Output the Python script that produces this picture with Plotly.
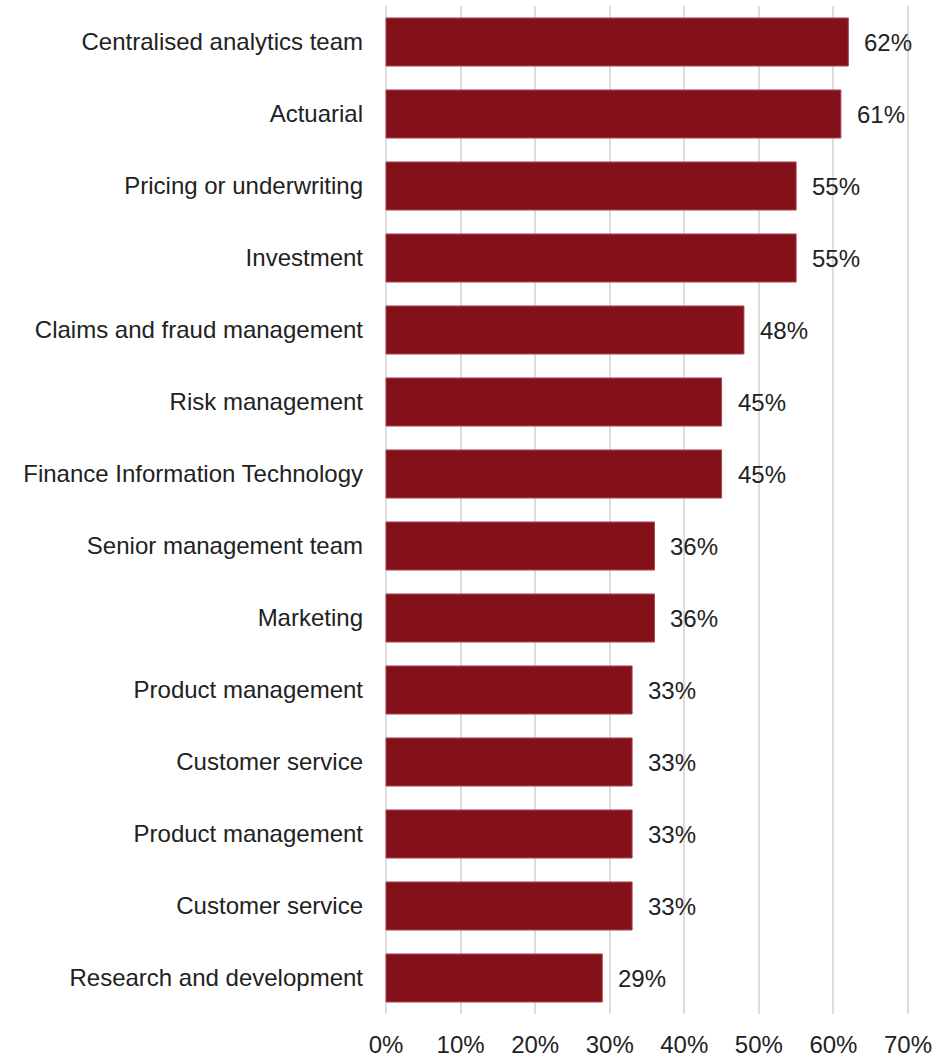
import plotly.graph_objects as go

# Share of respondents by business function
functions = [
    "Centralised analytics team",
    "Actuarial",
    "Pricing or underwriting",
    "Investment",
    "Claims and fraud management",
    "Risk management",
    "Finance Information Technology",
    "Senior management team",
    "Marketing",
    "Product management",
    "Customer service",
    "Product management",
    "Customer service",
    "Research and development",
]
shares = [62, 61, 55, 55, 48, 45, 45, 36, 36, 33, 33, 33, 33, 29]

x_ticks = [0, 10, 20, 30, 40, 50, 60, 70]
x_tick_labels = [f"{v}%" for v in x_ticks]

BAR = "#84111A"
TEXT = "#222222"
FONT = "Liberation Sans, Arial, sans-serif"
SIZE = 24

positions = list(range(len(functions)))

fig = go.Figure(
    go.Bar(
        x=shares,
        y=positions,
        orientation="h",
        marker=dict(color=BAR, line=dict(color="#a8474f", width=1)),
        width=0.667,
        hoverinfo="skip",
    )
)

for pos, val in zip(positions, shares):
    fig.add_annotation(
        x=val, y=pos, text=f"{val}%", showarrow=False,
        xanchor="left", yanchor="middle", xshift=14,
        font=dict(family=FONT, size=SIZE, color=TEXT),
    )

fig.update_layout(
    width=952, height=1058,
    margin=dict(l=384, r=42, t=6, b=44),
    paper_bgcolor="white", plot_bgcolor="white",
    showlegend=False,
    font=dict(family=FONT, size=SIZE, color=TEXT),
    xaxis=dict(
        range=[-0.27, 70.27],
        tickvals=x_ticks, ticktext=x_tick_labels,
        showgrid=True, gridcolor="#dcdcdc", gridwidth=2,
        zeroline=False, showline=False,
        ticks="", ticklabelstandoff=14, automargin=False,
        tickfont=dict(size=SIZE, color=TEXT),
    ),
    yaxis=dict(
        tickvals=positions, ticktext=functions,
        range=[len(functions) - 0.5, -0.5],
        showgrid=False, zeroline=False, showline=False,
        ticks="", ticklabelstandoff=20, automargin=False,
        tickfont=dict(size=SIZE, color=TEXT),
    ),
)

fig.write_html("out.html")
